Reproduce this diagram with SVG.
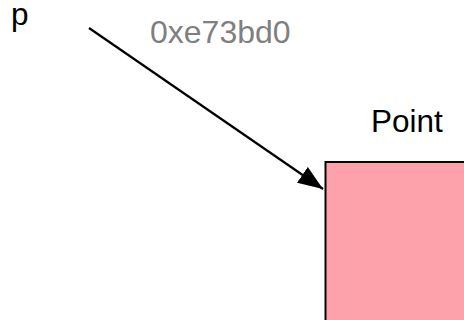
<svg xmlns="http://www.w3.org/2000/svg" width="464" height="320" viewBox="0 0 464 320">
  <style>
    .lbl { font-family: "Liberation Sans", Arial, sans-serif; font-size: 31.5px; fill: #000000; }
    .addr { font-family: "Liberation Sans", Arial, sans-serif; font-size: 32px; fill: #7f7f7f; }
    .box { fill: #fda2aa; stroke: #000000; stroke-width: 2; }
    .conn { stroke: #000000; stroke-width: 2.2; fill: none; }
  </style>
  <defs>
    <marker id="arrow" markerUnits="userSpaceOnUse" markerWidth="30" markerHeight="24" refX="25" refY="9.5" orient="auto">
      <path d="M0,0 L25,9.5 L0,19 Z" fill="#000000"/>
    </marker>
  </defs>
  <g id="var-p">
    <text class="lbl" x="11" y="25">p</text>
  </g>
  <g id="point">
    <text class="lbl" x="371" y="132">Point</text>
    <rect class="box" x="325.5" y="162" width="160" height="180"/>
  </g>
  <g id="connectors">
    <line class="conn" x1="89" y1="28" x2="323" y2="189" marker-end="url(#arrow)"/>
    <text class="addr" x="150" y="42.5">0xe73bd0</text>
  </g>
</svg>
